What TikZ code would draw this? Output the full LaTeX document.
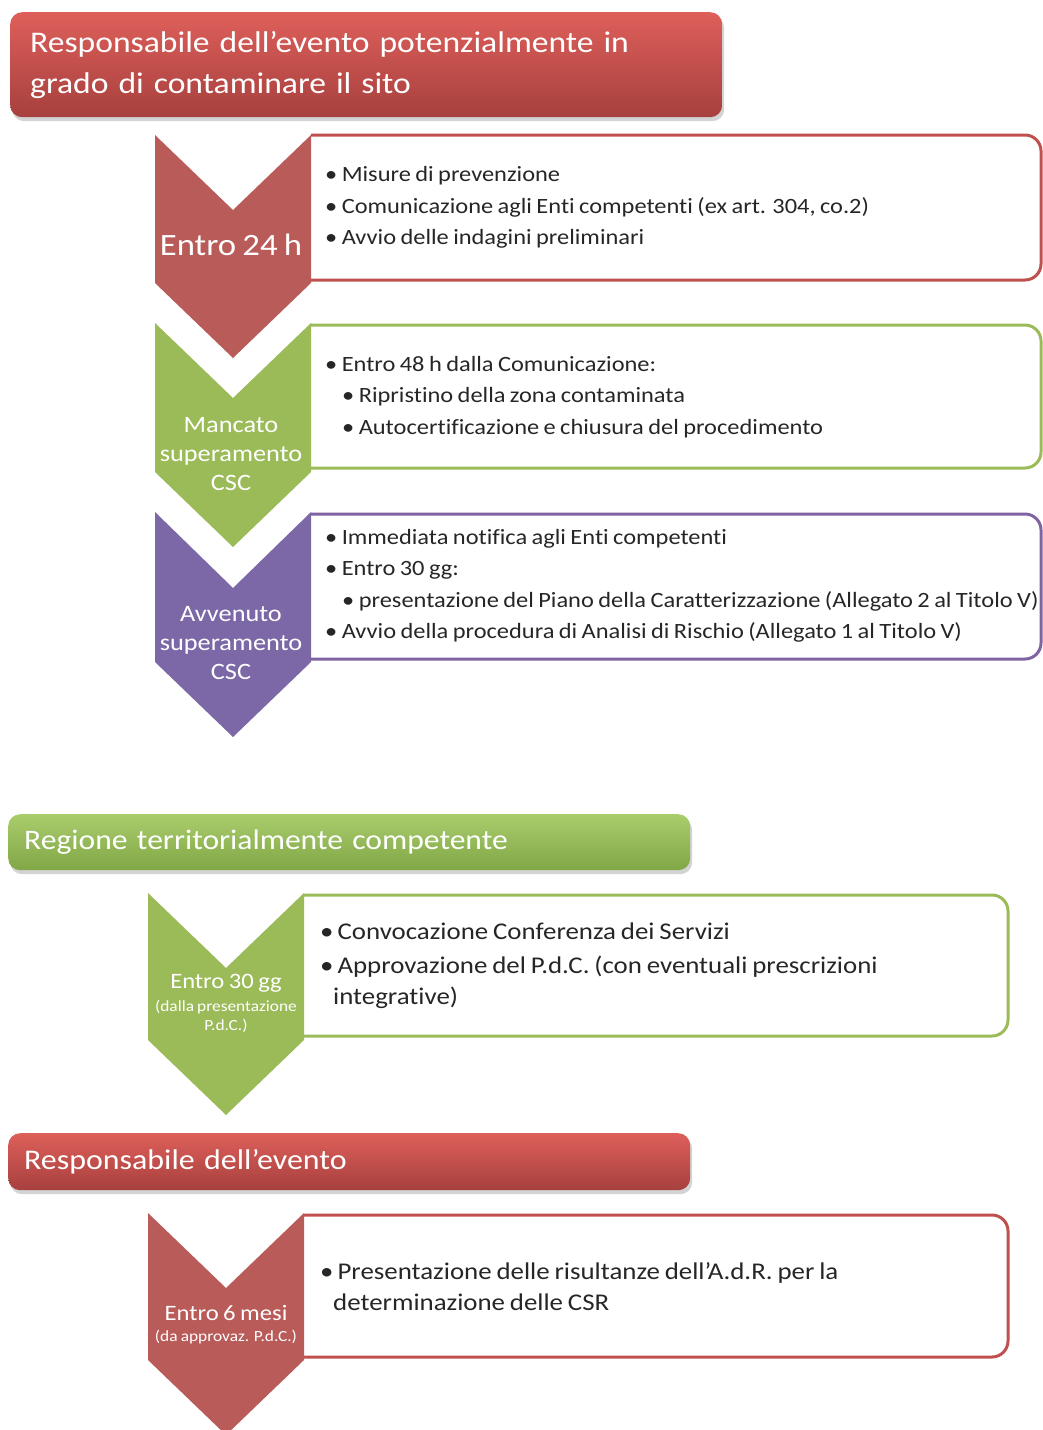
\documentclass[tikz,border=0pt]{standalone}
\usepackage{fontspec}
\setmainfont{Carlito}[FakeStretch=1.12,WordSpace=0.8,Ligatures=NoCommon]
\usetikzlibrary{shadows}

\definecolor{redchev}{HTML}{B95B59}
\definecolor{redline}{HTML}{C0504D}
\definecolor{greenchev}{HTML}{9BBB59}
\definecolor{purplechev}{HTML}{7C68A6}
\definecolor{purpleline}{HTML}{8064A2}
\definecolor{redtop}{HTML}{DE5F5A}
\definecolor{redbot}{HTML}{A6403E}
\definecolor{greentop}{HTML}{AACD6C}
\definecolor{greenbot}{HTML}{80A646}
\definecolor{bodytext}{HTML}{262626}

\begin{document}
\begin{tikzpicture}[x=1pt,y=-1pt,
  hdr/.style={anchor=north west,rounded corners=12pt,text=white,align=left,
    inner xsep=20pt,inner ysep=0pt,
    drop shadow={opacity=0.35,shadow xshift=2pt,shadow yshift=-4pt}},
  redhdr/.style={hdr,top color=redtop,bottom color=redbot},
  greenhdr/.style={hdr,top color=greentop,bottom color=greenbot},
  chevtxt/.style={text=white,align=center,inner sep=0pt},
  bullets/.style={anchor=west,align=left,inner sep=0pt,text=bodytext,
    font=\fontsize{21.8}{31.5}\selectfont},
  bulletsbig/.style={bullets,font=\fontsize{24}{31}\selectfont},
  frame/.style={line width=3pt,rounded corners=16pt}]
\useasboundingbox (0,0) rectangle (1043,1430);

% first block: responsabile
\node (resp) [redhdr,minimum width=712,minimum height=105,text width=672,
  font=\fontsize{30}{41}\selectfont] at (10,12)
  {Responsabile dell’evento potenzialmente in\\grado di contaminare il sito};

\draw[frame,redline] (311,135) -- (1041,135) -- (1041,280) -- (311,280);
\fill[redchev] (155,135) -- (233,210) -- (311,135) -- (311,283) -- (233,358) -- (155,283) -- cycle;
\node (h24) [chevtxt,font=\fontsize{31}{33}\selectfont] at (231,245) {Entro 24 h};
\node (list24) [bullets] at (325,207.5)
  {\textbullet\ Misure di prevenzione\\
   \textbullet\ Comunicazione agli Enti competenti (ex art. 304, co.2)\\
   \textbullet\ Avvio delle indagini preliminari};

\draw[frame,greenchev] (311,325) -- (1041,325) -- (1041,468) -- (311,468);
\fill[greenchev] (155,323) -- (233,398) -- (311,323) -- (311,472) -- (233,547) -- (155,472) -- cycle;
\node (mancato) [chevtxt,font=\fontsize{23.5}{29}\selectfont] at (231,454)
  {Mancato\\superamento\\CSC};
\node (listmanc) [bullets] at (325,397)
  {\textbullet\ Entro 48 h dalla Comunicazione:\\
   \hspace{17pt}\textbullet\ Ripristino della zona contaminata\\
   \hspace{17pt}\textbullet\ Autocertificazione e chiusura del procedimento};

\draw[frame,purpleline] (311,514) -- (1041,514) -- (1041,659) -- (311,659);
\fill[purplechev] (155,512) -- (233,588) -- (311,512) -- (311,662) -- (233,737) -- (155,662) -- cycle;
\node (avvenuto) [chevtxt,font=\fontsize{23.5}{29}\selectfont] at (231,643)
  {Avvenuto\\superamento\\CSC};
\node (listavv) [bullets] at (325,586)
  {\textbullet\ Immediata notifica agli Enti competenti\\
   \textbullet\ Entro 30 gg:\\
   \hspace{17pt}\textbullet\ presentazione del Piano della Caratterizzazione (Allegato 2 al Titolo V)\\
   \textbullet\ Avvio della procedura di Analisi di Rischio (Allegato 1 al Titolo V)};

% second block: regione
\node (reg) [greenhdr,inner xsep=16pt,minimum width=682,minimum height=56,text width=650,
  font=\fontsize{28.2}{36}\selectfont] at (8,814) {Regione territorialmente competente};

\draw[frame,greenchev] (304,895) -- (1008,895) -- (1008,1036) -- (304,1036);
\fill[greenchev] (148,893) -- (226,968) -- (304,893) -- (304,1040) -- (226,1115) -- (148,1040) -- cycle;
\node (g30) [chevtxt,font=\fontsize{22}{24}\selectfont] at (226,983) {Entro 30 gg};
\node (g30b) [chevtxt,font=\fontsize{15.5}{19}\selectfont] at (226,1016)
  {(dalla presentazione\\P.d.C.)};
\node (listreg) [bulletsbig] at (320,966)
  {\textbullet\,Convocazione Conferenza dei Servizi\\[3pt]
   \textbullet\,Approvazione del P.d.C. (con eventuali prescrizioni\\
   \hspace{13pt}integrative)};

% third block: responsabile
\node (resp2) [redhdr,inner xsep=16pt,minimum width=682,minimum height=57,text width=650,
  font=\fontsize{28.5}{36}\selectfont] at (8,1133) {Responsabile dell’evento};

\draw[frame,redline] (304,1215) -- (1008,1215) -- (1008,1357) -- (304,1357);
\fill[redchev] (148,1213) -- (226,1288) -- (304,1213) -- (304,1360) -- (226,1435) -- (148,1360) -- cycle;
\node (m6) [chevtxt,font=\fontsize{22}{24}\selectfont] at (226,1313) {Entro 6 mesi};
\node (m6b) [chevtxt,font=\fontsize{15.5}{19}\selectfont] at (226,1337) {(da approvaz. P.d.C.)};
\node (listadr) [bulletsbig] at (320,1287)
  {\textbullet\,Presentazione delle risultanze dell’A.d.R. per la\\
   \hspace{13pt}determinazione delle CSR};
\end{tikzpicture}
\end{document}
